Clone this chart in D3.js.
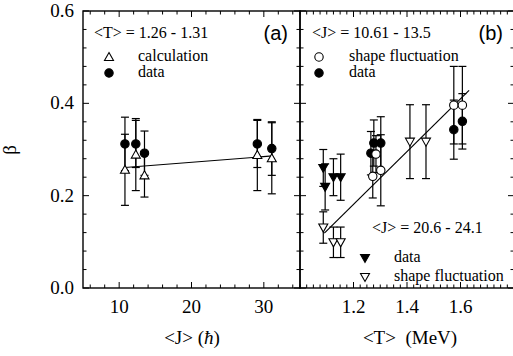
<!DOCTYPE html>
<html>
<head>
<meta charset="utf-8">
<script src="https://cdn.jsdelivr.net/npm/d3@7"></script>
<style>
  body { margin: 0; background: #fff; }
  svg { display: block; }
  .axis line { stroke: #000; }
</style>
</head>
<body>
<div id="chart"></div>
<script>
// panel (a): beta vs <J>, <T> = 1.26 - 1.31
const aJ = [10.8, 12.3, 13.5, 29.1, 31.1];
const aData = [0.312, 0.312, 0.292, 0.312, 0.302];
const aDataErr = [0.058, 0.051, 0.048, 0.051, 0.058];
const aCalc = [0.256, 0.289, 0.244, 0.288, 0.281];
const aCalcErr = [0.077, 0.078, 0.047, 0.077, 0.077];
const aFitJ = [10.8, 31.2];
const aFitB = [0.261, 0.286];

// panel (b): beta vs <T>, <J> = 10.61 - 13.5
const bShapeT = [1.272, 1.284, 1.302, 1.575, 1.607];
const bShape = [0.242, 0.29, 0.255, 0.396, 0.396];
const bShapeErr = [0.047, 0.04, 0.077, 0.084, 0.084];
const bDataT = [1.265, 1.276, 1.302, 1.575, 1.607];
const bData = [0.292, 0.314, 0.314, 0.343, 0.361];
const bDataErr = [0.047, 0.05, 0.057, 0.064, 0.06];

// panel (b): <J> = 20.6 - 24.1
const cDataT = [1.087, 1.094, 1.125, 1.152];
const cData = [0.26, 0.219, 0.24, 0.24];
const cDataErr = [0.04, 0.05, 0.04, 0.05];
const cShapeT = [1.087, 1.125, 1.152, 1.411, 1.471];
const cShape = [0.131, 0.099, 0.099, 0.317, 0.317];
const cShapeErr = [0.034, 0.033, 0.033, 0.08, 0.08];
const bFitT = [1.091, 1.632];
const bFitB = [0.119, 0.428];

const yTicks = [0.0, 0.2, 0.4, 0.6];
const aTicks = [10, 20, 30];
const bTicks = [1.2, 1.4, 1.6];

const serif = '"Liberation Serif", "Times New Roman", "DejaVu Serif", serif';
const sans = '"Liberation Sans", Arial, sans-serif';

const width = 513, height = 356;
const plotTop = 11, plotBottom = 288;
const svg = d3.select('#chart').append('svg')
    .attr('width', width).attr('height', height)
    .attr('font-family', serif);

const y = d3.scaleLinear().domain([0, 0.6]).range([plotBottom, plotTop]);
const xa = d3.scaleLinear().domain([5, 35]).range([83, 300]);
const xb = d3.scaleLinear().domain([1.0, 1.8]).range([300, 514]);

const major = 6, minor = 3.5;

function frame(x, majors, minors) {
    const [x0, x1] = x.range();
    const g = svg.append('g').attr('class', 'axis');
    g.append('rect').attr('x', x0).attr('y', plotTop)
        .attr('width', x1 - x0).attr('height', plotBottom - plotTop)
        .attr('fill', 'none').attr('stroke', '#000').attr('stroke-width', 1.4);
    // x ticks bottom and top, pointing in
    minors.forEach(v => {
        const len = majors.some(m => Math.abs(m - v) < 1e-6) ? major : minor;
        g.append('line').attr('x1', x(v)).attr('x2', x(v))
            .attr('y1', plotBottom).attr('y2', plotBottom - len).attr('stroke-width', 1);
        g.append('line').attr('x1', x(v)).attr('x2', x(v))
            .attr('y1', plotTop).attr('y2', plotTop + len).attr('stroke-width', 1);
    });
    // y ticks left and right, pointing in
    d3.range(0, 0.6001, 0.04).forEach(v => {
        const isMajor = Math.abs(Math.round(v / 0.2) * 0.2 - v) < 1e-6;
        const len = isMajor ? major : minor;
        g.append('line').attr('x1', x0).attr('x2', x0 + len)
            .attr('y1', y(v)).attr('y2', y(v)).attr('stroke-width', 1);
        g.append('line').attr('x1', x1).attr('x2', x1 - len)
            .attr('y1', y(v)).attr('y2', y(v)).attr('stroke-width', 1);
    });
    majors.forEach(v => {
        g.append('text').attr('x', x(v)).attr('y', plotBottom + 25)
            .attr('text-anchor', 'middle').attr('font-size', 19)
            .attr('font-family', serif)
            .text(x === xb ? d3.format('.1f')(v) : v);
    });
}

frame(xa, aTicks, d3.range(6, 35, 2));
frame(xb, bTicks, d3.range(1.0, 1.8001, 0.025).map(v => +v.toFixed(3)));

// y tick labels
yTicks.forEach(v => {
    svg.append('text').attr('x', 74).attr('y', y(v) + 6)
        .attr('text-anchor', 'end').attr('font-size', 19)
        .attr('font-family', serif)
        .text(d3.format('.1f')(v));
});

svg.append('text')
    .attr('transform', 'translate(16,150) rotate(-90)')
    .attr('text-anchor', 'middle').attr('font-size', 19)
    .attr('font-family', serif)
    .text('β');

svg.append('text').attr('x', 192).attr('y', 344)
    .attr('text-anchor', 'middle').attr('font-size', 19)
    .attr('font-family', serif)
    .html('&lt;J&gt; (<tspan font-style="italic">ħ</tspan>)');
svg.append('text').attr('x', 410).attr('y', 344)
    .attr('text-anchor', 'middle').attr('font-size', 19)
    .attr('font-family', serif)
    .attr('xml:space', 'preserve')
    .text('<T>  (MeV)');

function errorBars(x, xs, vs, es) {
    const g = svg.append('g').attr('stroke', '#000').attr('stroke-width', 1.2);
    xs.forEach((t, i) => {
        const cx = x(t), y0 = y(vs[i] - es[i]), y1 = y(vs[i] + es[i]);
        g.append('line').attr('x1', cx).attr('x2', cx).attr('y1', y0).attr('y2', y1);
        g.append('line').attr('x1', cx - 4).attr('x2', cx + 4).attr('y1', y0).attr('y2', y0);
        g.append('line').attr('x1', cx - 4).attr('x2', cx + 4).attr('y1', y1).attr('y2', y1);
    });
}

const triUp = 'M0,-4.5L4.5,3.5L-4.5,3.5Z';
const triDown = 'M-4.5,-3.5L4.5,-3.5L0,4.5Z';

function marks(x, xs, vs, kind, filled) {
    const g = svg.append('g');
    xs.forEach((t, i) => {
        addMark(g, x(t), y(vs[i]), kind, filled);
    });
}

function addMark(g, cx, cy, kind, filled) {
    const fill = filled ? '#000' : '#fff';
    if (kind === 'circle') {
        g.append('circle').attr('cx', cx).attr('cy', cy).attr('r', 4.2)
            .attr('fill', fill).attr('stroke', '#000').attr('stroke-width', 1.1);
    } else {
        g.append('path').attr('transform', `translate(${cx},${cy})`)
            .attr('d', kind === 'up' ? triUp : triDown)
            .attr('fill', fill).attr('stroke', '#000').attr('stroke-width', 1.1);
    }
}

function fitLine(x, xs, vs) {
    svg.append('line')
        .attr('x1', x(xs[0])).attr('y1', y(vs[0]))
        .attr('x2', x(xs[1])).attr('y2', y(vs[1]))
        .attr('stroke', '#000').attr('stroke-width', 1.2);
}

// panel (a)
errorBars(xa, aJ, aCalc, aCalcErr);
errorBars(xa, aJ, aData, aDataErr);
fitLine(xa, aFitJ, aFitB);
marks(xa, aJ, aCalc, 'up', false);
marks(xa, aJ, aData, 'circle', true);

// panel (b)
errorBars(xb, bShapeT, bShape, bShapeErr);
errorBars(xb, bDataT, bData, bDataErr);
errorBars(xb, cDataT, cData, cDataErr);
errorBars(xb, cShapeT, cShape, cShapeErr);
fitLine(xb, bFitT, bFitB);
marks(xb, bDataT, bData, 'circle', true);
marks(xb, bShapeT, bShape, 'circle', false);
marks(xb, cDataT, cData, 'down', true);
marks(xb, cShapeT, cShape, 'down', false);

// legends
function legendText(x, yy, str) {
    svg.append('text').attr('x', x).attr('y', yy)
        .attr('font-size', 16).attr('font-family', serif)
        .attr('xml:space', 'preserve').text(str);
}
const lg = svg.append('g');

legendText(94, 38, '<T> = 1.26 - 1.31');
addMark(lg, 109, 57, 'up', false);
legendText(138, 61, 'calculation');
addMark(lg, 109, 73, 'circle', true);
legendText(138, 77, 'data');

legendText(312, 38, '<J> = 10.61 - 13.5');
addMark(lg, 319, 57, 'circle', false);
legendText(349, 61, 'shape fluctuation');
addMark(lg, 319, 73, 'circle', true);
legendText(349, 77, 'data');

legendText(372, 233, '<J> = 20.6 - 24.1');
addMark(lg, 365, 258, 'down', true);
legendText(394, 262, 'data');
addMark(lg, 365, 277, 'down', false);
legendText(394, 281, 'shape fluctuation');

svg.append('text').attr('x', 288).attr('y', 40).attr('text-anchor', 'end')
    .attr('font-family', sans)
    .attr('font-size', 20).text('(a)');
svg.append('text').attr('x', 503).attr('y', 40).attr('text-anchor', 'end')
    .attr('font-family', sans)
    .attr('font-size', 20).text('(b)');
</script>
</body>
</html>
